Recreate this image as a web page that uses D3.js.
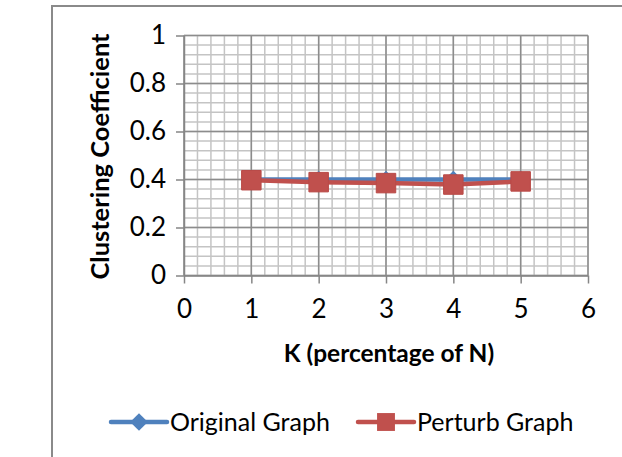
<!DOCTYPE html>
<html lang="en">
  <head>
    <meta charset="utf-8">
    <title>Clustering coefficient</title>
    <script src="https://d3js.org/d3.v7.min.js"></script>
    <style>
      body {
        margin: 0;
        background-color: white;
      }
      svg {
        display: block;
        background-color: white;
        font-family: Lato, "Open Sans", sans-serif;
      }
    </style>
  </head>
  <body>
    <script>
      var w = 622;
      var h = 457;

      // data
      const kValues = [1, 2, 3, 4, 5];
      const originalGraph = [0.40, 0.40, 0.40, 0.40, 0.40];
      const perturbGraph = [0.397, 0.389, 0.385, 0.379, 0.392];
      const xTicks = [0, 1, 2, 3, 4, 5, 6];
      const yTicks = [0, 0.2, 0.4, 0.6, 0.8, 1];
      const seriesNames = ["Original Graph", "Perturb Graph"];

      const blue = "#4f81bd";
      const red = "#c0504d";

      let svg = d3.select("body")
        .append("svg")
        .attr("width", w)
        .attr("height", h);

      // chart frame (runs off the picture on the right and bottom)
      svg.append("rect")
        .attr("x", 52).attr("y", 6)
        .attr("width", 620).attr("height", 500)
        .attr("fill", "white")
        .attr("stroke", "#8a8a8a")
        .attr("stroke-width", 2);

      let x = d3.scaleLinear().domain([0, 6]).range([184, 588]);
      let y = d3.scaleLinear().domain([0, 1]).range([275.5, 35.5]);

      // minor grid
      let grid = svg.append("g");
      grid.selectAll("line.minx")
        .data(d3.range(0, 6.001, 0.2))
        .enter().append("line")
        .attr("x1", d => x(d)).attr("x2", d => x(d))
        .attr("y1", y(0)).attr("y2", y(1))
        .attr("stroke", "#c4c4c4").attr("stroke-width", 1.5);
      grid.selectAll("line.miny")
        .data(d3.range(0, 1.001, 0.04))
        .enter().append("line")
        .attr("y1", d => y(d)).attr("y2", d => y(d))
        .attr("x1", x(0)).attr("x2", x(6))
        .attr("stroke", "#c4c4c4").attr("stroke-width", 1.5);
      // major grid
      grid.selectAll("line.majx")
        .data(xTicks)
        .enter().append("line")
        .attr("x1", d => x(d)).attr("x2", d => x(d))
        .attr("y1", y(0)).attr("y2", y(1))
        .attr("stroke", "#8c8c8c").attr("stroke-width", 1.5);
      grid.selectAll("line.majy")
        .data(yTicks)
        .enter().append("line")
        .attr("y1", d => y(d)).attr("y2", d => y(d))
        .attr("x1", x(0)).attr("x2", x(6))
        .attr("stroke", "#8c8c8c").attr("stroke-width", 1.5);

      // axes
      let xAxis = svg.append("g")
        .attr("transform", "translate(0," + y(0) + ")")
        .call(d3.axisBottom(x).tickValues(xTicks).tickSize(8).tickPadding(16).tickSizeOuter(0)
          .tickFormat(d3.format("d")));
      let yAxis = svg.append("g")
        .attr("transform", "translate(" + x(0) + ",0)")
        .call(d3.axisLeft(y).tickValues(yTicks).tickSize(8).tickPadding(10).tickSizeOuter(0)
          .tickFormat(d3.format("")));
      [xAxis, yAxis].forEach(a => {
        a.select(".domain").attr("stroke", "#868686").attr("stroke-width", 1.5);
        a.selectAll(".tick line").attr("stroke", "#868686").attr("stroke-width", 1.5);
        a.selectAll("text")
          .attr("fill", "#000")
          .style("font-family", "Lato, 'Open Sans', sans-serif")
          .style("font-size", "26px");
      });

      // axis titles
      svg.append("text")
        .attr("x", x(3) + 3).attr("y", 362)
        .attr("text-anchor", "middle")
        .style("font-weight", "bold")
        .style("font-size", "24.5px")
        .text("K (percentage of N)");
      svg.append("text")
        .attr("transform", "translate(109," + ((y(0) + y(1)) / 2 + 1) + ") rotate(-90)")
        .attr("text-anchor", "middle")
        .style("font-weight", "bold")
        .style("font-size", "25.5px")
        .text("Clustering Coefficient");

      // series
      let line = d3.line()
        .x(d => x(d[0]))
        .y(d => y(d[1]));
      let origPts = kValues.map((k, i) => [k, originalGraph[i]]);
      let pertPts = kValues.map((k, i) => [k, perturbGraph[i]]);

      let symDiamond = d3.symbol().type(d3.symbolDiamond2).size(200);
      let symSquare = d3.symbol().type(d3.symbolSquare).size(380);

      svg.append("path")
        .datum(origPts)
        .attr("d", line)
        .attr("fill", "none")
        .attr("stroke", blue)
        .attr("stroke-width", 4.5)
        .attr("stroke-linejoin", "round");
      svg.selectAll("path.orig")
        .data(origPts)
        .enter().append("path")
        .attr("class", "orig")
        .attr("transform", d => "translate(" + x(d[0]) + "," + y(d[1]) + ")")
        .attr("d", symDiamond)
        .attr("fill", blue);

      svg.append("path")
        .datum(pertPts)
        .attr("d", line)
        .attr("fill", "none")
        .attr("stroke", red)
        .attr("stroke-width", 4.5)
        .attr("stroke-linejoin", "round");
      svg.selectAll("path.pert")
        .data(pertPts)
        .enter().append("path")
        .attr("class", "pert")
        .attr("transform", d => "translate(" + x(d[0]) + "," + y(d[1]) + ")")
        .attr("d", symSquare)
        .attr("fill", red)
        .attr("stroke", "#b94a47")
        .attr("stroke-width", 1);

      // legend
      let legend = svg.append("g");
      let legendItems = [
        { name: seriesNames[0], color: blue, sym: symDiamond, x0: 111 },
        { name: seriesNames[1], color: red, sym: d3.symbol().type(d3.symbolSquare).size(320), x0: 358 }
      ];
      legendItems.forEach(it => {
        legend.append("line")
          .attr("x1", it.x0).attr("x2", it.x0 + 56)
          .attr("y1", 422).attr("y2", 422)
          .attr("stroke", it.color)
          .attr("stroke-width", 4.5)
          .attr("stroke-linecap", "round");
        legend.append("path")
          .attr("transform", "translate(" + (it.x0 + 28) + ",422)")
          .attr("d", it.sym)
          .attr("fill", it.color);
        legend.append("text")
          .attr("x", it.x0 + 59).attr("y", 431)
          .style("font-size", "25px")
          .text(it.name);
      });
    </script>
  </body>
</html>
